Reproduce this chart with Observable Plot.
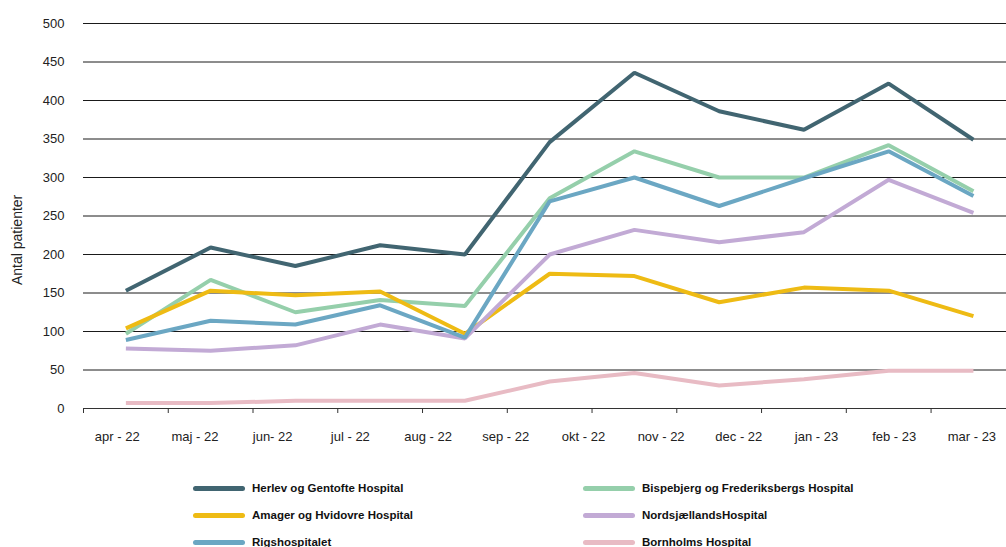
<!DOCTYPE html>
<html>
<head>
<meta charset="utf-8">
<script src="https://cdn.jsdelivr.net/npm/d3@7"></script>
<script src="https://cdn.jsdelivr.net/npm/@observablehq/plot@0.6"></script>
<style>
  body { margin: 0; background: #fff; font-family: "Liberation Sans", Arial, sans-serif; }
  #chart svg { display: block; }
  #legend { position: relative; height: 92px; }
  .item { position: absolute; display: flex; align-items: center; height: 20px; font-weight: bold; font-size: 11.5px; color: #111; }
  .sw { width: 52px; height: 5px; border-radius: 3px; margin-right: 7px; }
</style>
</head>
<body>
<div id="chart"></div>
<div id="legend"></div>
<script>
const months = ["apr - 22","maj - 22","jun- 22","jul - 22","aug - 22","sep - 22","okt - 22","nov - 22","dec - 22","jan - 23","feb - 23","mar - 23"];
const yTicks = [0,50,100,150,200,250,300,350,400,450,500];
const seriesNames = ["Herlev og Gentofte Hospital","Bispebjerg og Frederiksbergs Hospital","Amager og Hvidovre Hospital","NordsjællandsHospital","Rigshospitalet","Bornholms Hospital"];
const seriesColors = ["#416571","#95cfab","#eebb14","#c2aad5","#6ba7c3","#e8bbc4"];
const herlev      = [153,209,185,212,200,346,436,386,362,422,349];
const bispebjerg  = [97,167,125,141,133,273,334,300,300,342,282];
const amager      = [104,153,147,152,97,175,172,138,157,153,120];
const nordsj      = [78,75,82,109,91,200,232,216,229,297,254];
const rigs        = [89,114,109,134,92,269,300,263,299,334,276];
const bornholm    = [7,7,10,10,10,35,46,30,38,49,49];
const values = [herlev, bispebjerg, amager, nordsj, rigs, bornholm];

const n = herlev.length; // number of data points
const data = [];
values.forEach((arr, s) => arr.forEach((v, i) => data.push({series: seriesNames[s], i, v})));

const W = 1006, H = 455;
const labelPos = months.map((m, j) => -0.56 + (j + 0.5) * n / months.length);
const edges = d3.range(0, n + 1).map(k => k - 0.5);

const chart = Plot.plot({
  width: W, height: H,
  marginLeft: 83, marginRight: 0, marginTop: 23, marginBottom: 47,
  style: {fontFamily: "'Liberation Sans', Arial, sans-serif", fontSize: "13px", color: "#222", background: "#fff"},
  x: {type: "linear", domain: [-0.5, 10.39]},
  y: {domain: [0, 500]},
  color: {domain: seriesNames, range: seriesColors},
  marks: [
    Plot.ruleY(yTicks.filter(d => d > 0), {stroke: "#1a1a1a", strokeWidth: 1}),
    Plot.ruleY([0], {stroke: "#333", strokeWidth: 1}),
    Plot.axisY({ticks: yTicks, tickSize: 0, tickPadding: 19, label: null, fontSize: 13}),
    Plot.text(["Antal patienter"], {frameAnchor: "left", rotate: -90, dx: -66, dy: 69, fontSize: 14, fill: "#222"}),
    Plot.axisX({ticks: edges.filter(e => e <= 10.39), tickSize: 5, tickFormat: () => "", stroke: "#333", label: null}),
    Plot.axisX({ticks: labelPos, tickSize: 0, tickPadding: 23, tickFormat: (d, j) => months[j], label: null, fontSize: 13}),
    Plot.line(data, {x: "i", y: "v", z: "series", stroke: "series", strokeWidth: 4, strokeLinejoin: "miter", strokeLinecap: "butt"})
  ]
});
document.getElementById("chart").appendChild(chart);

const legend = document.getElementById("legend");
const cols = [193, 583];
seriesNames.forEach((name, s) => {
  const row = Math.floor(s / 2), col = s % 2;
  const div = document.createElement("div");
  div.className = "item";
  div.style.left = cols[col] + "px";
  div.style.top = (23 + row * 27) + "px";
  div.innerHTML = `<span class="sw" style="background:${seriesColors[s]}"></span><span></span>`;
  div.lastChild.textContent = name;
  legend.appendChild(div);
});
</script>
</body>
</html>
